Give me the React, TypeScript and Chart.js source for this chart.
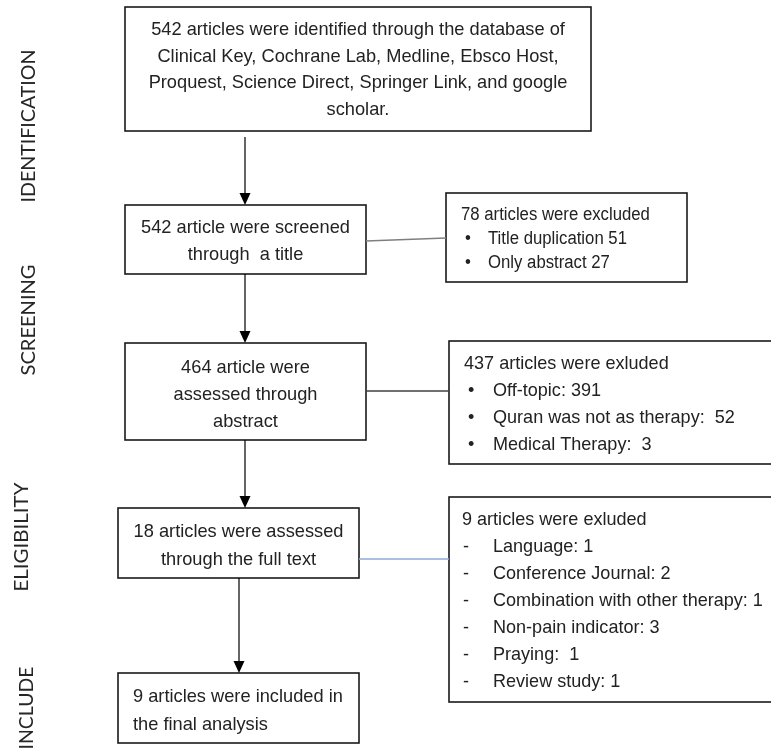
import React, { useEffect, useRef } from "react";
import { Chart, registerables } from "chart.js";

Chart.register(...registerables);

// ---- content ----
const stageNames = ["IDENTIFICATION", "SCREENING", "ELIGIBILITY", "INCLUDE"];

const mainBoxLines = [
  [
    "542 articles were identified through the database of",
    "Clinical Key, Cochrane Lab, Medline, Ebsco Host,",
    "Proquest, Science Direct, Springer Link, and google",
    "scholar.",
  ],
  ["542 article were screened", "through  a title"],
  ["464 article were", "assessed through", "abstract"],
  ["18 articles were assessed", "through the full text"],
  ["9 articles were included in", "the final analysis"],
];

const sideTitles = [
  "78 articles were excluded",
  "437 articles were exluded",
  "9 articles were exluded",
];
const sideItems = [
  ["Title duplication 51", "Only abstract 27"],
  ["Off-topic: 391", "Quran was not as therapy:  52", "Medical Therapy:  3"],
  [
    "Language: 1",
    "Conference Journal: 2",
    "Combination with other therapy: 1",
    "Non-pain indicator: 3",
    "Praying:  1",
    "Review study: 1",
  ],
];
const sideMarkers = ["•", "•", "-"];

// ---- layout (scale units = canvas px) ----
const stageCenterX = [29, 29, 22, 27];
const stageCenterY = [126, 320, 537, 708];
const stageLength = [153, 111, 109, 83];

const mainRects = [
  [125, 7, 591, 131],
  [125, 205, 366, 274],
  [125, 343, 366, 440],
  [118, 508, 359, 578],
  [118, 673, 359, 743],
];
const mainFirstBaseline = [35, 233, 373, 537, 702];
const mainLineHeight = [26.7, 27, 27, 28, 28];
const mainAlignLeftX = [null, null, null, null, 133];

const sideRects = [
  [446, 193, 687, 282],
  [449, 341, 776, 464],
  [449, 497, 776, 702],
];
const sideTitleX = [461, 464, 462];
const sideMarkerX = [465, 468, 463];
const sideItemX = [488, 493, 493];
const sideFirstBaseline = [220, 369, 525];
const sideLineHeight = [24, 27, 27];
const sideFontSize = [18, 19, 19];
const sideScaleX = [0.93, 0.95, 0.95];

const connectorPoints = [
  [[366, 241], [446, 238]],
  [[366, 391], [449, 391]],
  [[359, 559], [449, 559]],
];
const connectorColors = ["#7f7f7f", "#404040", "#8faadc"];

// arrow: x, yStart, yEnd(tip)
const arrowX = [245, 245, 245, 239];
const arrowStart = [137, 274, 440, 578];
const arrowEnd = [205, 343, 508, 673];

const TEXT = "#222222";
const FONT = "'Liberation Sans', Arial, sans-serif";

function drawScaledText(
  ctx: CanvasRenderingContext2D,
  text: string,
  x: number,
  y: number,
  align: CanvasTextAlign,
  size: number,
  sx: number
) {
  ctx.save();
  ctx.font = `${size}px ${FONT}`;
  ctx.fillStyle = TEXT;
  ctx.textBaseline = "alphabetic";
  ctx.textAlign = align;
  ctx.translate(x, y);
  ctx.scale(sx, 1);
  ctx.fillText(text, 0, 0);
  ctx.restore();
}

const flowPlugin = {
  id: "flow",
  beforeDatasetsDraw(chart: any) {
    const ctx: CanvasRenderingContext2D = chart.ctx;
    const xs = chart.scales.x;
    const ys = chart.scales.y;
    const X = (v: number) => xs.getPixelForValue(v);
    const Y = (v: number) => ys.getPixelForValue(v);
    ctx.save();
    ctx.fillStyle = "#ffffff";
    ctx.fillRect(0, 0, chart.width, chart.height);
    ctx.lineWidth = 1.6;
    ctx.strokeStyle = "#1a1a1a";
    [...mainRects, ...sideRects].forEach((r) => {
      const x0 = X(r[0]);
      const y0 = Y(r[1]);
      const x1 = X(r[2]);
      const y1 = Y(r[3]);
      ctx.fillStyle = "#ffffff";
      ctx.fillRect(x0, y0, x1 - x0, y1 - y0);
      ctx.strokeRect(x0, y0, x1 - x0, y1 - y0);
    });
    ctx.restore();
  },
  afterDatasetsDraw(chart: any) {
    const ctx: CanvasRenderingContext2D = chart.ctx;
    const xs = chart.scales.x;
    const ys = chart.scales.y;
    const X = (v: number) => xs.getPixelForValue(v);
    const Y = (v: number) => ys.getPixelForValue(v);

    // arrow heads
    ctx.save();
    ctx.fillStyle = "#000000";
    arrowX.forEach((ax, i) => {
      const tip = Y(arrowEnd[i]);
      const px = X(ax);
      ctx.beginPath();
      ctx.moveTo(px, tip);
      ctx.lineTo(px - 5.5, tip - 12);
      ctx.lineTo(px + 5.5, tip - 12);
      ctx.closePath();
      ctx.fill();
    });
    ctx.restore();

    // stage labels (rotated)
    stageNames.forEach((name, i) => {
      ctx.save();
      ctx.font = `20px Lato, 'Open Sans', sans-serif`;
      ctx.fillStyle = "#262626";
      ctx.textAlign = "center";
      ctx.textBaseline = "middle";
      const w = ctx.measureText(name).width;
      ctx.translate(X(stageCenterX[i]), Y(stageCenterY[i]));
      ctx.rotate(-Math.PI / 2);
      ctx.scale(stageLength[i] / w, 1);
      ctx.fillText(name, 0, 0);
      ctx.restore();
    });

    // main box texts
    mainBoxLines.forEach((lines, i) => {
      const r = mainRects[i];
      const cx = X((r[0] + r[2]) / 2);
      lines.forEach((line, j) => {
        const y = Y(mainFirstBaseline[i] + j * mainLineHeight[i]);
        const lx = mainAlignLeftX[i];
        if (lx != null) drawScaledText(ctx, line, X(lx), y, "left", 19, 0.96);
        else drawScaledText(ctx, line, cx, y, "center", 19, 0.96);
      });
    });

    // side box texts
    sideTitles.forEach((title, i) => {
      const fs = sideFontSize[i];
      const sx = sideScaleX[i];
      drawScaledText(ctx, title, X(sideTitleX[i]), Y(sideFirstBaseline[i]), "left", fs, sx);
      sideItems[i].forEach((item, j) => {
        const y = Y(sideFirstBaseline[i] + (j + 1) * sideLineHeight[i]);
        drawScaledText(ctx, sideMarkers[i], X(sideMarkerX[i]), y, "left", fs, sx);
        drawScaledText(ctx, item, X(sideItemX[i]), y, "left", fs, sx);
      });
    });
  },
};

export default function App() {
  const ref = useRef<HTMLCanvasElement | null>(null);
  useEffect(() => {
    if (!ref.current) return;
    const datasets: any[] = [];
    connectorPoints.forEach((pts, i) => {
      datasets.push({
        type: "line",
        data: pts.map((p) => ({ x: p[0], y: p[1] })),
        borderColor: connectorColors[i],
        borderWidth: 1.3,
        pointRadius: 0,
        showLine: true,
        clip: false,
      });
    });
    arrowX.forEach((ax, i) => {
      datasets.push({
        type: "line",
        data: [
          { x: ax, y: arrowStart[i] },
          { x: ax, y: arrowEnd[i] - 10 },
        ],
        borderColor: "#000000",
        borderWidth: 1.2,
        pointRadius: 0,
        showLine: true,
        clip: false,
      });
    });
    const chart = new Chart(ref.current, {
      type: "scatter",
      data: { datasets },
      options: {
        animation: false,
        responsive: true,
        maintainAspectRatio: false,
        layout: { padding: 0 },
        plugins: { legend: { display: false }, tooltip: { enabled: false } },
        scales: {
          x: { type: "linear", min: 0, max: 771, display: false },
          y: { type: "linear", min: 0, max: 751, reverse: true, display: false },
        },
      },
      plugins: [flowPlugin],
    } as any);
    return () => chart.destroy();
  }, []);
  return (
    <div style={{ position: "absolute", left: 0, top: 0, width: 771, height: 751, background: "#fff" }}>
      <canvas ref={ref} />
    </div>
  );
}
